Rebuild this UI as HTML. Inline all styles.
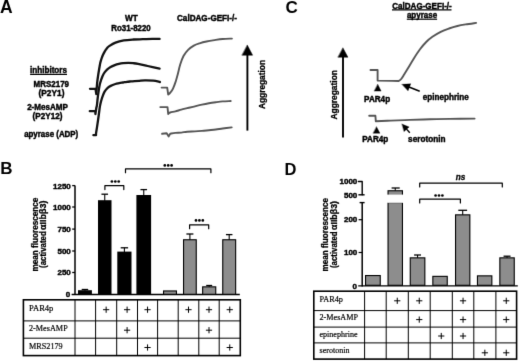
<!DOCTYPE html>
<html><head><meta charset="utf-8"><title>Figure</title>
<style>
html,body{margin:0;padding:0;background:#fff;}
body{width:520px;height:361px;overflow:hidden;font-family:"Liberation Sans",sans-serif;}
svg{display:block;filter:grayscale(1);}
</style></head>
<body>
<svg width="520" height="361" viewBox="0 0 520 361">
<defs><filter id="bl" color-interpolation-filters="sRGB" x="0" y="0" width="100%" height="100%" filterUnits="userSpaceOnUse"><feConvolveMatrix order="3" kernelMatrix="0 1 0 1 8 1 0 1 0" edgeMode="duplicate" preserveAlpha="true"/></filter></defs>
<g filter="url(#bl)">
<rect x="0" y="0" width="520" height="361" fill="#fff"/>
<text x="0.00" y="12.90" font-size="17.50" font-weight="bold" text-anchor="start" font-family="Liberation Sans, sans-serif" fill="#000">A</text>
<text x="0.30" y="174.10" font-size="17.00" font-weight="bold" text-anchor="start" font-family="Liberation Sans, sans-serif" fill="#000">B</text>
<text x="285.50" y="12.50" font-size="17.00" font-weight="bold" text-anchor="start" font-family="Liberation Sans, sans-serif" fill="#000">C</text>
<text x="284.60" y="175.30" font-size="16.50" font-weight="bold" text-anchor="start" font-family="Liberation Sans, sans-serif" fill="#000">D</text>
<text x="131.30" y="20.60" font-size="8.20" font-weight="bold" text-anchor="middle" font-family="Liberation Sans, sans-serif" stroke="#000" stroke-width="0.42">WT</text>
<text x="131.00" y="30.60" font-size="8.20" font-weight="bold" text-anchor="middle" font-family="Liberation Sans, sans-serif" textLength="39.40" lengthAdjust="spacingAndGlyphs" stroke="#000" stroke-width="0.42">Ro31-8220</text>
<text x="207.00" y="20.90" font-size="8.20" font-weight="bold" text-anchor="middle" font-family="Liberation Sans, sans-serif" textLength="60.00" lengthAdjust="spacingAndGlyphs" stroke="#000" stroke-width="0.42">CalDAG-GEFI-/-</text>
<text x="48.50" y="73.40" font-size="8.20" font-weight="bold" text-anchor="middle" font-family="Liberation Sans, sans-serif" textLength="37.00" lengthAdjust="spacingAndGlyphs" stroke="#000" stroke-width="0.42">inhibitors</text>
<line x1="30.10" y1="74.30" x2="67.00" y2="74.30" stroke="#000" stroke-width="1.30"/>
<text x="51.30" y="86.70" font-size="8.20" font-weight="bold" text-anchor="middle" font-family="Liberation Sans, sans-serif" textLength="35.40" lengthAdjust="spacingAndGlyphs" stroke="#000" stroke-width="0.42">MRS2179</text>
<text x="51.50" y="95.80" font-size="8.20" font-weight="bold" text-anchor="middle" font-family="Liberation Sans, sans-serif" textLength="25.90" lengthAdjust="spacingAndGlyphs" stroke="#000" stroke-width="0.42">(P2Y1)</text>
<text x="47.50" y="109.50" font-size="8.20" font-weight="bold" text-anchor="middle" font-family="Liberation Sans, sans-serif" textLength="40.70" lengthAdjust="spacingAndGlyphs" stroke="#000" stroke-width="0.42">2-MesAMP</text>
<text x="47.50" y="118.80" font-size="8.20" font-weight="bold" text-anchor="middle" font-family="Liberation Sans, sans-serif" textLength="29.90" lengthAdjust="spacingAndGlyphs" stroke="#000" stroke-width="0.42">(P2Y12)</text>
<text x="51.20" y="137.30" font-size="8.20" font-weight="bold" text-anchor="middle" font-family="Liberation Sans, sans-serif" textLength="54.10" lengthAdjust="spacingAndGlyphs" stroke="#000" stroke-width="0.42">apyrase (ADP)</text>
<path d="M90.0,88.8 L95.5,88.8 L96.3,94.0 L96.60,90.00 C96.70,88.73 96.93,84.90 97.20,82.40 C97.47,79.90 97.85,77.35 98.20,75.00 C98.55,72.65 98.95,70.33 99.30,68.30 C99.65,66.27 99.95,64.35 100.30,62.80 C100.65,61.25 100.97,60.30 101.40,59.00 C101.83,57.70 102.33,56.28 102.90,55.00 C103.47,53.72 104.12,52.43 104.80,51.30 C105.48,50.17 106.22,49.10 107.00,48.20 C107.78,47.30 108.08,46.83 109.50,45.90 C110.92,44.97 113.12,43.52 115.50,42.60 C117.88,41.68 120.82,40.92 123.80,40.40 C126.78,39.88 130.22,39.70 133.40,39.50 C136.58,39.30 139.73,39.30 142.90,39.20 C146.07,39.10 149.62,38.95 152.40,38.90 C155.18,38.85 158.40,38.90 159.60,38.90" fill="none" stroke="#111" stroke-width="2.30" stroke-linejoin="round" stroke-linecap="round" />
<path d="M89.8,111.2 L95.4,111.2 L95.40,114.00 C95.55,113.00 96.05,109.43 96.30,108.00 C96.55,106.57 96.67,107.07 96.90,105.40 C97.13,103.73 97.42,100.35 97.70,98.00 C97.98,95.65 98.25,93.58 98.60,91.30 C98.95,89.02 99.38,86.18 99.80,84.30 C100.22,82.42 100.62,81.42 101.10,80.00 C101.58,78.58 102.08,77.10 102.70,75.80 C103.32,74.50 104.03,73.27 104.80,72.20 C105.57,71.13 106.33,70.27 107.30,69.40 C108.27,68.53 109.35,67.72 110.60,67.00 C111.85,66.28 113.42,65.62 114.80,65.10 C116.18,64.58 117.52,64.22 118.90,63.90 C120.28,63.58 121.53,63.37 123.10,63.20 C124.67,63.03 126.60,62.90 128.30,62.90 C130.00,62.90 131.67,63.03 133.30,63.20 C134.93,63.37 135.70,63.43 138.10,63.90 C140.50,64.37 144.12,65.22 147.70,66.00 C151.28,66.78 157.62,68.17 159.60,68.60" fill="none" stroke="#111" stroke-width="2.30" stroke-linejoin="round" stroke-linecap="round" />
<path d="M93.4,135.2 L96.0,135.2 L96.00,133.50 C96.25,131.90 97.02,127.15 97.50,123.90 C97.98,120.65 98.52,116.80 98.90,114.00 C99.28,111.20 99.48,109.05 99.80,107.10 C100.12,105.15 100.38,103.97 100.80,102.30 C101.22,100.63 101.67,98.87 102.30,97.10 C102.93,95.33 103.70,93.25 104.60,91.70 C105.50,90.15 106.55,88.83 107.70,87.80 C108.85,86.77 110.22,86.13 111.50,85.50 C112.78,84.87 114.12,84.38 115.40,84.00 C116.68,83.62 117.92,83.45 119.20,83.20 C120.48,82.95 121.82,82.73 123.10,82.50 C124.38,82.27 125.62,81.98 126.90,81.80 C128.18,81.62 129.52,81.52 130.80,81.40 C132.08,81.28 133.20,81.20 134.60,81.10 C136.00,81.00 137.48,80.92 139.20,80.80 C140.92,80.68 142.57,80.42 144.90,80.40 C147.23,80.38 150.70,80.43 153.20,80.70 C155.70,80.97 158.78,81.78 159.90,82.00" fill="none" stroke="#111" stroke-width="2.30" stroke-linejoin="round" stroke-linecap="round" />
<path d="M161.6,87.6 L167.2,87.6 L168.20,94.60 C168.58,94.23 169.70,93.40 170.50,92.40 C171.30,91.40 172.18,90.27 173.00,88.60 C173.82,86.93 174.58,84.88 175.40,82.40 C176.22,79.92 177.10,76.68 177.90,73.70 C178.70,70.72 179.27,67.45 180.20,64.50 C181.13,61.55 182.18,58.45 183.50,56.00 C184.82,53.55 186.38,51.53 188.10,49.80 C189.82,48.07 191.88,46.68 193.80,45.60 C195.72,44.52 197.48,43.98 199.60,43.30 C201.72,42.62 204.00,42.03 206.50,41.50 C209.00,40.97 211.90,40.52 214.60,40.10 C217.30,39.68 219.82,39.25 222.70,39.00 C225.58,38.75 230.37,38.67 231.90,38.60" fill="none" stroke="#555" stroke-width="1.90" stroke-linejoin="round" stroke-linecap="round" />
<path d="M160.3,107.1 L167.5,107.1 L168.20,114.00 C168.53,113.75 169.00,112.93 170.20,112.50 C171.40,112.07 173.55,111.88 175.40,111.40 C177.25,110.92 179.35,110.13 181.30,109.60 C183.25,109.07 185.17,108.67 187.10,108.20 C189.03,107.73 190.43,107.40 192.90,106.80 C195.37,106.20 199.23,105.20 201.90,104.60 C204.57,104.00 206.58,103.60 208.90,103.20 C211.22,102.80 213.50,102.50 215.80,102.20 C218.10,101.90 220.22,101.60 222.70,101.40 C225.18,101.20 229.37,101.07 230.70,101.00" fill="none" stroke="#555" stroke-width="1.90" stroke-linejoin="round" stroke-linecap="round" />
<path d="M162.10,133.80 L166.70,133.30 L168.70,136.40 L170.20,133.70 L170.20,133.70 C171.07,133.57 173.55,133.08 175.40,132.90 C177.25,132.72 179.35,132.80 181.30,132.60 C183.25,132.40 184.82,131.90 187.10,131.70 C189.38,131.50 192.53,131.53 195.00,131.40 C197.47,131.27 199.58,131.10 201.90,130.90 C204.22,130.70 206.58,130.43 208.90,130.20 C211.22,129.97 213.50,129.78 215.80,129.50 C218.10,129.22 220.05,128.85 222.70,128.50 C225.35,128.15 230.20,127.58 231.70,127.40" fill="none" stroke="#555" stroke-width="1.90" stroke-linejoin="round" stroke-linecap="round" />
<line x1="247.40" y1="54.00" x2="247.40" y2="130.60" stroke="#000" stroke-width="1.90"/>
<path d="M247.4,45.3 L252.6,55.2 L242.2,55.2 Z" fill="#000" stroke="#000" stroke-width="0.50" stroke-linejoin="round" stroke-linecap="round" />
<text transform="translate(264.6,84.5) rotate(-90)" x="0" y="0" font-size="8.2" font-weight="bold" stroke="#000" stroke-width="0.3" text-anchor="middle" font-family="Liberation Sans, sans-serif" textLength="49" lengthAdjust="spacingAndGlyphs">Aggregation</text>
<text x="422.00" y="9.20" font-size="8.20" font-weight="bold" text-anchor="middle" font-family="Liberation Sans, sans-serif" textLength="59.50" lengthAdjust="spacingAndGlyphs" stroke="#000" stroke-width="0.42">CalDAG-GEFI-/-</text>
<line x1="392.00" y1="9.90" x2="451.50" y2="9.90" stroke="#000" stroke-width="1.20"/>
<text x="422.00" y="18.30" font-size="8.20" font-weight="bold" text-anchor="middle" font-family="Liberation Sans, sans-serif" textLength="30.20" lengthAdjust="spacingAndGlyphs" stroke="#000" stroke-width="0.42">apyrase</text>
<line x1="406.80" y1="19.20" x2="437.10" y2="19.20" stroke="#000" stroke-width="1.20"/>
<path d="M370.5,70.0 L377.6,70.0 L377.6,80.6 L392.0,80.9 L398.60,81.00 C399.03,80.67 400.25,80.13 401.20,79.00 C402.15,77.87 403.25,75.87 404.30,74.20 C405.35,72.53 405.93,71.58 407.50,69.00 C409.07,66.42 411.62,61.98 413.70,58.70 C415.78,55.42 417.92,52.08 420.00,49.30 C422.08,46.52 424.13,44.08 426.20,42.00 C428.27,39.92 429.98,38.50 432.40,36.80 C434.82,35.10 437.93,33.18 440.70,31.80 C443.47,30.42 446.22,29.47 449.00,28.50 C451.78,27.53 454.62,26.68 457.40,26.00 C460.18,25.32 462.58,24.92 465.70,24.40 C468.82,23.88 474.37,23.15 476.10,22.90" fill="none" stroke="#555" stroke-width="1.90" stroke-linejoin="round" stroke-linecap="round" />
<path d="M369.2,115.8 L375.4,115.8 L375.80,121.20 C378.30,121.10 385.10,120.82 390.80,120.60 C396.50,120.38 403.47,120.12 410.00,119.90 C416.53,119.68 423.33,119.47 430.00,119.30 C436.67,119.13 442.57,119.02 450.00,118.90 C457.43,118.78 470.50,118.65 474.60,118.60" fill="none" stroke="#555" stroke-width="1.90" stroke-linejoin="round" stroke-linecap="round" />
<path d="M377.8,84.4 L381.1,91.1 L374.4,91.1 Z" fill="#000" stroke="#000" stroke-width="0.40" stroke-linejoin="round" stroke-linecap="round" />
<path d="M376.6,126.9 L379.9,133.2 L373.3,133.2 Z" fill="#000" stroke="#000" stroke-width="0.40" stroke-linejoin="round" stroke-linecap="round" />
<text x="377.10" y="101.90" font-size="8.20" font-weight="bold" text-anchor="middle" font-family="Liberation Sans, sans-serif" textLength="26.00" lengthAdjust="spacingAndGlyphs" stroke="#000" stroke-width="0.42">PAR4p</text>
<text x="375.30" y="142.20" font-size="8.20" font-weight="bold" text-anchor="middle" font-family="Liberation Sans, sans-serif" textLength="26.00" lengthAdjust="spacingAndGlyphs" stroke="#000" stroke-width="0.42">PAR4p</text>
<text x="445.80" y="100.30" font-size="8.20" font-weight="bold" text-anchor="middle" font-family="Liberation Sans, sans-serif" textLength="45.90" lengthAdjust="spacingAndGlyphs" stroke="#000" stroke-width="0.42">epinephrine</text>
<text x="426.80" y="141.60" font-size="8.20" font-weight="bold" text-anchor="middle" font-family="Liberation Sans, sans-serif" textLength="37.40" lengthAdjust="spacingAndGlyphs" stroke="#000" stroke-width="0.42">serotonin</text>
<line x1="419.70" y1="91.20" x2="408.99" y2="87.02" stroke="#000" stroke-width="1.50"/>
<path d="M402.00,84.30 L410.80,83.76 L408.11,90.65 Z" fill="#000" stroke="#000" stroke-width="0.30" stroke-linejoin="round" stroke-linecap="round" />
<line x1="409.80" y1="132.80" x2="406.31" y2="128.86" stroke="#000" stroke-width="1.40"/>
<path d="M402.00,124.00 L409.19,126.98 L404.10,131.49 Z" fill="#000" stroke="#000" stroke-width="0.30" stroke-linejoin="round" stroke-linecap="round" />
<line x1="343.00" y1="56.00" x2="343.00" y2="137.50" stroke="#000" stroke-width="1.90"/>
<path d="M343.0,48.1 L347.9,57.2 L338.2,57.2 Z" fill="#000" stroke="#000" stroke-width="0.50" stroke-linejoin="round" stroke-linecap="round" />
<text transform="translate(337.2,94.8) rotate(-90)" x="0" y="0" font-size="8.2" font-weight="bold" stroke="#000" stroke-width="0.3" text-anchor="middle" font-family="Liberation Sans, sans-serif" textLength="49.5" lengthAdjust="spacingAndGlyphs">Aggregation</text>
<line x1="75.00" y1="185.60" x2="75.00" y2="294.90" stroke="#000" stroke-width="1.50"/>
<line x1="71.60" y1="294.50" x2="239.80" y2="294.50" stroke="#000" stroke-width="1.40"/>
<line x1="72.20" y1="185.60" x2="75.00" y2="185.60" stroke="#000" stroke-width="1.30"/>
<text x="70.80" y="188.50" font-size="8.00" font-weight="bold" text-anchor="end" font-family="Liberation Sans, sans-serif" stroke="#000" stroke-width="0.42">1250</text>
<line x1="72.20" y1="207.00" x2="75.00" y2="207.00" stroke="#000" stroke-width="1.30"/>
<text x="70.80" y="209.90" font-size="8.00" font-weight="bold" text-anchor="end" font-family="Liberation Sans, sans-serif" stroke="#000" stroke-width="0.42">1000</text>
<line x1="72.20" y1="229.10" x2="75.00" y2="229.10" stroke="#000" stroke-width="1.30"/>
<text x="70.80" y="232.00" font-size="8.00" font-weight="bold" text-anchor="end" font-family="Liberation Sans, sans-serif" stroke="#000" stroke-width="0.42">750</text>
<line x1="72.20" y1="251.00" x2="75.00" y2="251.00" stroke="#000" stroke-width="1.30"/>
<text x="70.80" y="253.90" font-size="8.00" font-weight="bold" text-anchor="end" font-family="Liberation Sans, sans-serif" stroke="#000" stroke-width="0.42">500</text>
<line x1="72.20" y1="272.50" x2="75.00" y2="272.50" stroke="#000" stroke-width="1.30"/>
<text x="70.80" y="275.40" font-size="8.00" font-weight="bold" text-anchor="end" font-family="Liberation Sans, sans-serif" stroke="#000" stroke-width="0.42">250</text>
<text x="70.30" y="297.10" font-size="8.00" font-weight="bold" text-anchor="end" font-family="Liberation Sans, sans-serif" stroke="#000" stroke-width="0.42">0</text>
<text transform="translate(38.3,234.6) rotate(-90)" font-size="8.15" font-weight="bold" stroke="#000" stroke-width="0.28" text-anchor="middle" font-family="Liberation Sans, sans-serif" textLength="73.8" lengthAdjust="spacingAndGlyphs">mean fluorescence</text>
<text transform="translate(46.1,267.9) rotate(-90)" font-size="8.2" font-weight="bold" stroke="#000" stroke-width="0.28" font-family="Liberation Sans, sans-serif" textLength="36.6" lengthAdjust="spacingAndGlyphs">(activated</text>
<text transform="translate(46.1,229.9) rotate(-90)" font-size="8.2" font-weight="bold" stroke="#000" stroke-width="0.28" font-family="Liberation Sans, sans-serif" textLength="29.3" lengthAdjust="spacingAndGlyphs">&#945;IIb&#946;3)</text>
<rect x="78.00" y="290.20" width="13.90" height="4.10" fill="#000"/>
<line x1="84.95" y1="289.50" x2="84.95" y2="290.70" stroke="#000" stroke-width="1.10"/>
<line x1="81.70" y1="289.50" x2="88.20" y2="289.50" stroke="#000" stroke-width="1.30"/>
<rect x="98.00" y="200.20" width="13.50" height="94.10" fill="#000"/>
<line x1="104.75" y1="194.20" x2="104.75" y2="200.70" stroke="#000" stroke-width="1.10"/>
<line x1="101.45" y1="194.20" x2="108.05" y2="194.20" stroke="#000" stroke-width="1.30"/>
<rect x="117.30" y="251.60" width="14.20" height="42.70" fill="#000"/>
<line x1="124.40" y1="247.80" x2="124.40" y2="252.10" stroke="#000" stroke-width="1.10"/>
<line x1="120.70" y1="247.80" x2="128.10" y2="247.80" stroke="#000" stroke-width="1.30"/>
<rect x="136.40" y="195.00" width="14.70" height="99.30" fill="#000"/>
<line x1="143.75" y1="189.60" x2="143.75" y2="195.50" stroke="#000" stroke-width="1.10"/>
<line x1="140.45" y1="189.60" x2="147.05" y2="189.60" stroke="#000" stroke-width="1.30"/>
<rect x="163.55" y="290.95" width="12.90" height="3.35" fill="#8d8d8d" stroke="#000" stroke-width="1.10"/>
<rect x="183.55" y="239.75" width="12.70" height="54.55" fill="#8d8d8d" stroke="#000" stroke-width="1.10"/>
<line x1="189.90" y1="234.00" x2="189.90" y2="239.70" stroke="#000" stroke-width="1.10"/>
<line x1="186.40" y1="234.00" x2="193.40" y2="234.00" stroke="#000" stroke-width="1.30"/>
<rect x="202.65" y="286.85" width="13.10" height="7.45" fill="#8d8d8d" stroke="#000" stroke-width="1.10"/>
<line x1="209.20" y1="285.50" x2="209.20" y2="286.80" stroke="#000" stroke-width="1.10"/>
<line x1="206.20" y1="285.50" x2="212.20" y2="285.50" stroke="#000" stroke-width="1.30"/>
<rect x="222.75" y="239.75" width="12.90" height="54.55" fill="#8d8d8d" stroke="#000" stroke-width="1.10"/>
<line x1="229.20" y1="234.60" x2="229.20" y2="239.70" stroke="#000" stroke-width="1.10"/>
<line x1="225.95" y1="234.60" x2="232.45" y2="234.60" stroke="#000" stroke-width="1.30"/>
<path d="M104.90,189.60 L104.90,185.70 L123.80,185.70 L123.80,189.60" fill="none" stroke="#000" stroke-width="1.20" stroke-linejoin="round" stroke-linecap="round" stroke-linecap="butt" stroke-linejoin="miter"/>
<circle cx="111.90" cy="181.50" r="1.35" fill="#000"/>
<circle cx="115.30" cy="181.50" r="1.35" fill="#000"/>
<circle cx="118.70" cy="181.50" r="1.35" fill="#000"/>
<path d="M125.50,172.70 L125.50,168.90 L210.90,168.90 L210.90,172.70" fill="none" stroke="#000" stroke-width="1.20" stroke-linejoin="round" stroke-linecap="round" stroke-linecap="butt" stroke-linejoin="miter"/>
<circle cx="164.80" cy="165.40" r="1.35" fill="#000"/>
<circle cx="168.20" cy="165.40" r="1.35" fill="#000"/>
<circle cx="171.60" cy="165.40" r="1.35" fill="#000"/>
<path d="M189.60,228.70 L189.60,224.80 L208.70,224.80 L208.70,228.70" fill="none" stroke="#000" stroke-width="1.20" stroke-linejoin="round" stroke-linecap="round" stroke-linecap="butt" stroke-linejoin="miter"/>
<circle cx="196.00" cy="220.40" r="1.35" fill="#000"/>
<circle cx="199.40" cy="220.40" r="1.35" fill="#000"/>
<circle cx="202.80" cy="220.40" r="1.35" fill="#000"/>
<rect x="23.40" y="299.80" width="216.90" height="55.80" fill="none" stroke="#000" stroke-width="1.60"/>
<line x1="23.40" y1="320.90" x2="240.30" y2="320.90" stroke="#000" stroke-width="1.00"/>
<line x1="23.40" y1="338.20" x2="240.30" y2="338.20" stroke="#000" stroke-width="1.00"/>
<line x1="75.00" y1="299.80" x2="75.00" y2="355.60" stroke="#000" stroke-width="1.00"/>
<line x1="95.60" y1="299.80" x2="95.60" y2="355.60" stroke="#000" stroke-width="1.00"/>
<line x1="116.70" y1="299.80" x2="116.70" y2="355.60" stroke="#000" stroke-width="1.00"/>
<line x1="137.50" y1="299.80" x2="137.50" y2="355.60" stroke="#000" stroke-width="1.00"/>
<line x1="157.60" y1="299.80" x2="157.60" y2="355.60" stroke="#000" stroke-width="1.00"/>
<line x1="178.20" y1="299.80" x2="178.20" y2="355.60" stroke="#000" stroke-width="1.00"/>
<line x1="198.80" y1="299.80" x2="198.80" y2="355.60" stroke="#000" stroke-width="1.00"/>
<line x1="219.20" y1="299.80" x2="219.20" y2="355.60" stroke="#000" stroke-width="1.00"/>
<text x="29.00" y="311.20" font-size="8.40" font-weight="normal" text-anchor="start" font-family="Liberation Serif, serif" textLength="24.40" lengthAdjust="spacingAndGlyphs" stroke="#000" stroke-width="0.18">PAR4p</text>
<text x="29.00" y="331.30" font-size="8.40" font-weight="normal" text-anchor="start" font-family="Liberation Serif, serif" textLength="38.70" lengthAdjust="spacingAndGlyphs" stroke="#000" stroke-width="0.18">2-MesAMP</text>
<text x="29.00" y="348.80" font-size="8.40" font-weight="normal" text-anchor="start" font-family="Liberation Serif, serif" textLength="33.70" lengthAdjust="spacingAndGlyphs" stroke="#000" stroke-width="0.18">MRS2179</text>
<line x1="103.05" y1="309.70" x2="109.25" y2="309.70" stroke="#000" stroke-width="1.00"/>
<line x1="106.15" y1="306.60" x2="106.15" y2="312.80" stroke="#000" stroke-width="1.00"/>
<line x1="124.00" y1="309.70" x2="130.20" y2="309.70" stroke="#000" stroke-width="1.00"/>
<line x1="127.10" y1="306.60" x2="127.10" y2="312.80" stroke="#000" stroke-width="1.00"/>
<line x1="144.45" y1="309.70" x2="150.65" y2="309.70" stroke="#000" stroke-width="1.00"/>
<line x1="147.55" y1="306.60" x2="147.55" y2="312.80" stroke="#000" stroke-width="1.00"/>
<line x1="185.40" y1="309.70" x2="191.60" y2="309.70" stroke="#000" stroke-width="1.00"/>
<line x1="188.50" y1="306.60" x2="188.50" y2="312.80" stroke="#000" stroke-width="1.00"/>
<line x1="205.90" y1="309.70" x2="212.10" y2="309.70" stroke="#000" stroke-width="1.00"/>
<line x1="209.00" y1="306.60" x2="209.00" y2="312.80" stroke="#000" stroke-width="1.00"/>
<line x1="226.65" y1="309.70" x2="232.85" y2="309.70" stroke="#000" stroke-width="1.00"/>
<line x1="229.75" y1="306.60" x2="229.75" y2="312.80" stroke="#000" stroke-width="1.00"/>
<line x1="124.00" y1="330.20" x2="130.20" y2="330.20" stroke="#000" stroke-width="1.00"/>
<line x1="127.10" y1="327.10" x2="127.10" y2="333.30" stroke="#000" stroke-width="1.00"/>
<line x1="205.90" y1="330.20" x2="212.10" y2="330.20" stroke="#000" stroke-width="1.00"/>
<line x1="209.00" y1="327.10" x2="209.00" y2="333.30" stroke="#000" stroke-width="1.00"/>
<line x1="144.45" y1="347.50" x2="150.65" y2="347.50" stroke="#000" stroke-width="1.00"/>
<line x1="147.55" y1="344.40" x2="147.55" y2="350.60" stroke="#000" stroke-width="1.00"/>
<line x1="226.65" y1="347.50" x2="232.85" y2="347.50" stroke="#000" stroke-width="1.00"/>
<line x1="229.75" y1="344.40" x2="229.75" y2="350.60" stroke="#000" stroke-width="1.00"/>
<path d="M358.4,181.5 L362.20,181.5 L362.20,194.8" fill="none" stroke="#000" stroke-width="1.40" stroke-linejoin="round" stroke-linecap="round" stroke-linecap="butt" stroke-linejoin="miter"/>
<line x1="358.40" y1="194.80" x2="364.60" y2="194.80" stroke="#000" stroke-width="1.40"/>
<line x1="359.60" y1="202.60" x2="364.60" y2="202.60" stroke="#000" stroke-width="1.40"/>
<line x1="362.20" y1="202.60" x2="362.20" y2="286.50" stroke="#000" stroke-width="1.50"/>
<line x1="358.20" y1="285.80" x2="517.80" y2="285.80" stroke="#000" stroke-width="1.30"/>
<line x1="358.60" y1="219.70" x2="362.20" y2="219.70" stroke="#000" stroke-width="1.20"/>
<line x1="358.60" y1="252.50" x2="362.20" y2="252.50" stroke="#000" stroke-width="1.20"/>
<text x="357.30" y="184.30" font-size="8.00" font-weight="bold" text-anchor="end" font-family="Liberation Sans, sans-serif" stroke="#000" stroke-width="0.42">1000</text>
<text x="357.30" y="198.00" font-size="8.00" font-weight="bold" text-anchor="end" font-family="Liberation Sans, sans-serif" stroke="#000" stroke-width="0.42">500</text>
<text x="357.30" y="222.40" font-size="8.00" font-weight="bold" text-anchor="end" font-family="Liberation Sans, sans-serif" stroke="#000" stroke-width="0.42">200</text>
<text x="357.30" y="255.20" font-size="8.00" font-weight="bold" text-anchor="end" font-family="Liberation Sans, sans-serif" stroke="#000" stroke-width="0.42">100</text>
<text x="357.00" y="288.60" font-size="8.00" font-weight="bold" text-anchor="end" font-family="Liberation Sans, sans-serif" stroke="#000" stroke-width="0.42">0</text>
<text transform="translate(328.4,234.8) rotate(-90)" font-size="8.15" font-weight="bold" stroke="#000" stroke-width="0.28" text-anchor="middle" font-family="Liberation Sans, sans-serif" textLength="73.5" lengthAdjust="spacingAndGlyphs">mean fluorescence</text>
<text transform="translate(336.7,268.0) rotate(-90)" font-size="8.2" font-weight="bold" stroke="#000" stroke-width="0.28" font-family="Liberation Sans, sans-serif" textLength="36.6" lengthAdjust="spacingAndGlyphs">(activated</text>
<text transform="translate(336.7,230.0) rotate(-90)" font-size="8.2" font-weight="bold" stroke="#000" stroke-width="0.28" font-family="Liberation Sans, sans-serif" textLength="29.0" lengthAdjust="spacingAndGlyphs">&#945;IIb&#946;3)</text>
<rect x="365.55" y="275.55" width="14.70" height="9.75" fill="#8d8d8d" stroke="#000" stroke-width="1.10"/>
<rect x="388.05" y="202.60" width="14.40" height="82.70" fill="#8d8d8d" stroke="#000" stroke-width="1.10"/>
<rect x="387.50" y="200.80" width="15.50" height="1.80" fill="#fff"/>
<rect x="388.05" y="190.75" width="14.40" height="6.00" fill="#8d8d8d" stroke="#000" stroke-width="1.10"/>
<rect x="386.50" y="194.60" width="17.50" height="8.00" fill="#fff"/>
<line x1="395.25" y1="188.00" x2="395.25" y2="190.50" stroke="#000" stroke-width="1.10"/>
<line x1="391.60" y1="188.00" x2="399.70" y2="188.00" stroke="#000" stroke-width="1.30"/>
<rect x="410.25" y="257.85" width="14.60" height="27.45" fill="#8d8d8d" stroke="#000" stroke-width="1.10"/>
<line x1="417.55" y1="255.00" x2="417.55" y2="257.80" stroke="#000" stroke-width="1.10"/>
<line x1="414.10" y1="255.00" x2="421.00" y2="255.00" stroke="#000" stroke-width="1.30"/>
<rect x="432.85" y="276.35" width="14.40" height="8.95" fill="#8d8d8d" stroke="#000" stroke-width="1.10"/>
<rect x="455.55" y="214.85" width="14.30" height="70.45" fill="#8d8d8d" stroke="#000" stroke-width="1.10"/>
<line x1="462.70" y1="210.30" x2="462.70" y2="214.80" stroke="#000" stroke-width="1.10"/>
<line x1="458.30" y1="210.30" x2="467.10" y2="210.30" stroke="#000" stroke-width="1.30"/>
<rect x="477.45" y="275.85" width="14.40" height="9.45" fill="#8d8d8d" stroke="#000" stroke-width="1.10"/>
<rect x="499.85" y="257.85" width="14.40" height="27.45" fill="#8d8d8d" stroke="#000" stroke-width="1.10"/>
<line x1="507.05" y1="256.20" x2="507.05" y2="257.80" stroke="#000" stroke-width="1.10"/>
<line x1="503.55" y1="256.20" x2="510.55" y2="256.20" stroke="#000" stroke-width="1.30"/>
<path d="M419.70,187.00 L419.70,183.20 L502.30,183.20 L502.30,187.00" fill="none" stroke="#000" stroke-width="1.20" stroke-linejoin="round" stroke-linecap="round" stroke-linecap="butt" stroke-linejoin="miter"/>
<text x="460.6" y="179.6" font-size="8.2" font-weight="bold" font-style="italic" stroke="#000" stroke-width="0.3" text-anchor="middle" font-family="Liberation Sans, sans-serif">ns</text>
<path d="M419.70,203.00 L419.70,199.20 L460.40,199.20 L460.40,203.00" fill="none" stroke="#000" stroke-width="1.20" stroke-linejoin="round" stroke-linecap="round" stroke-linecap="butt" stroke-linejoin="miter"/>
<circle cx="435.60" cy="195.50" r="1.35" fill="#000"/>
<circle cx="439.00" cy="195.50" r="1.35" fill="#000"/>
<circle cx="442.40" cy="195.50" r="1.35" fill="#000"/>
<rect x="313.80" y="291.20" width="202.80" height="67.90" fill="none" stroke="#000" stroke-width="1.60"/>
<line x1="313.80" y1="310.60" x2="516.60" y2="310.60" stroke="#000" stroke-width="1.00"/>
<line x1="313.80" y1="327.10" x2="516.60" y2="327.10" stroke="#000" stroke-width="1.00"/>
<line x1="313.80" y1="342.90" x2="516.60" y2="342.90" stroke="#000" stroke-width="1.00"/>
<line x1="364.60" y1="291.20" x2="364.60" y2="359.10" stroke="#000" stroke-width="1.00"/>
<line x1="386.20" y1="291.20" x2="386.20" y2="359.10" stroke="#000" stroke-width="1.00"/>
<line x1="408.30" y1="291.20" x2="408.30" y2="359.10" stroke="#000" stroke-width="1.00"/>
<line x1="430.20" y1="291.20" x2="430.20" y2="359.10" stroke="#000" stroke-width="1.00"/>
<line x1="452.30" y1="291.20" x2="452.30" y2="359.10" stroke="#000" stroke-width="1.00"/>
<line x1="473.80" y1="291.20" x2="473.80" y2="359.10" stroke="#000" stroke-width="1.00"/>
<line x1="495.90" y1="291.20" x2="495.90" y2="359.10" stroke="#000" stroke-width="1.00"/>
<text x="319.50" y="302.00" font-size="8.10" font-weight="normal" text-anchor="start" font-family="Liberation Serif, serif" textLength="23.50" lengthAdjust="spacingAndGlyphs" stroke="#000" stroke-width="0.18">PAR4p</text>
<text x="319.50" y="320.00" font-size="8.10" font-weight="normal" text-anchor="start" font-family="Liberation Serif, serif" textLength="38.50" lengthAdjust="spacingAndGlyphs" stroke="#000" stroke-width="0.18">2-MesAMP</text>
<text x="319.50" y="336.80" font-size="8.10" font-weight="normal" text-anchor="start" font-family="Liberation Serif, serif" textLength="38.00" lengthAdjust="spacingAndGlyphs" stroke="#000" stroke-width="0.18">epinephrine</text>
<text x="319.50" y="353.40" font-size="8.10" font-weight="normal" text-anchor="start" font-family="Liberation Serif, serif" textLength="30.00" lengthAdjust="spacingAndGlyphs" stroke="#000" stroke-width="0.18">serotonin</text>
<line x1="394.15" y1="300.80" x2="400.35" y2="300.80" stroke="#000" stroke-width="1.00"/>
<line x1="397.25" y1="297.70" x2="397.25" y2="303.90" stroke="#000" stroke-width="1.00"/>
<line x1="416.15" y1="300.80" x2="422.35" y2="300.80" stroke="#000" stroke-width="1.00"/>
<line x1="419.25" y1="297.70" x2="419.25" y2="303.90" stroke="#000" stroke-width="1.00"/>
<line x1="459.95" y1="300.80" x2="466.15" y2="300.80" stroke="#000" stroke-width="1.00"/>
<line x1="463.05" y1="297.70" x2="463.05" y2="303.90" stroke="#000" stroke-width="1.00"/>
<line x1="503.15" y1="300.80" x2="509.35" y2="300.80" stroke="#000" stroke-width="1.00"/>
<line x1="506.25" y1="297.70" x2="506.25" y2="303.90" stroke="#000" stroke-width="1.00"/>
<line x1="416.15" y1="319.60" x2="422.35" y2="319.60" stroke="#000" stroke-width="1.00"/>
<line x1="419.25" y1="316.50" x2="419.25" y2="322.70" stroke="#000" stroke-width="1.00"/>
<line x1="459.95" y1="319.60" x2="466.15" y2="319.60" stroke="#000" stroke-width="1.00"/>
<line x1="463.05" y1="316.50" x2="463.05" y2="322.70" stroke="#000" stroke-width="1.00"/>
<line x1="503.15" y1="319.60" x2="509.35" y2="319.60" stroke="#000" stroke-width="1.00"/>
<line x1="506.25" y1="316.50" x2="506.25" y2="322.70" stroke="#000" stroke-width="1.00"/>
<line x1="438.15" y1="336.00" x2="444.35" y2="336.00" stroke="#000" stroke-width="1.00"/>
<line x1="441.25" y1="332.90" x2="441.25" y2="339.10" stroke="#000" stroke-width="1.00"/>
<line x1="459.95" y1="336.00" x2="466.15" y2="336.00" stroke="#000" stroke-width="1.00"/>
<line x1="463.05" y1="332.90" x2="463.05" y2="339.10" stroke="#000" stroke-width="1.00"/>
<line x1="481.75" y1="352.80" x2="487.95" y2="352.80" stroke="#000" stroke-width="1.00"/>
<line x1="484.85" y1="349.70" x2="484.85" y2="355.90" stroke="#000" stroke-width="1.00"/>
<line x1="503.15" y1="352.80" x2="509.35" y2="352.80" stroke="#000" stroke-width="1.00"/>
<line x1="506.25" y1="349.70" x2="506.25" y2="355.90" stroke="#000" stroke-width="1.00"/>
</g>
</svg>
</body></html>
